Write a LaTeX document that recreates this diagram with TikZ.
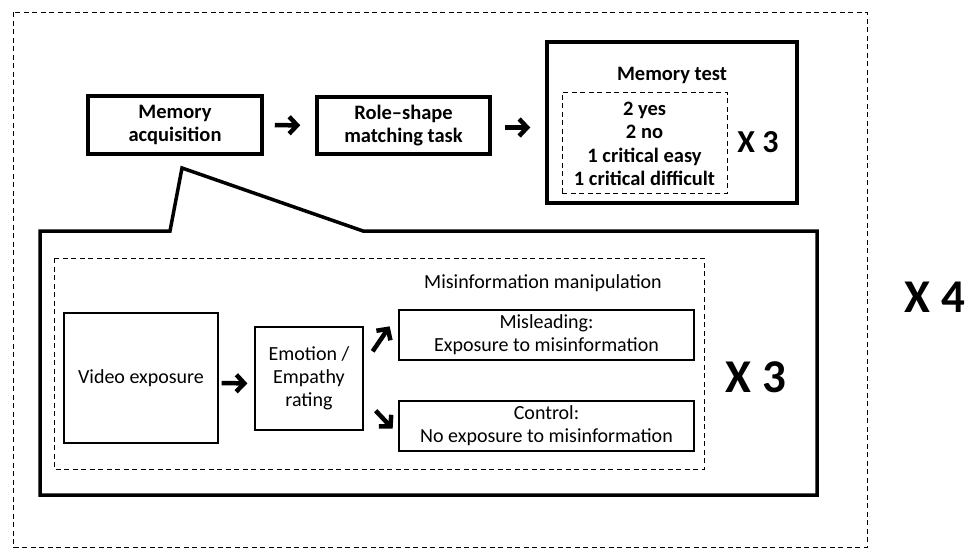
\documentclass[tikz,border=0pt]{standalone}
\usepackage{fontspec}
\setmainfont{Carlito}
\usetikzlibrary{arrows.meta,calc}

\tikzset{
	boldbox/.style={draw, line width=3.5pt, align=center, font=\bfseries\fontsize{20.5}{23}\selectfont},
	thinbox/.style={draw, line width=1.3pt, align=center, font=\fontsize{20}{23}\selectfont},
	dashframe/.style={draw, dashed, line width=1pt, dash pattern=on 5pt off 3.5pt},
	arr/.style={line width=4.5pt, -{Straight Barb[length=8pt, width=17pt, line width=4.5pt]}},
	times/.style={font=\bfseries\fontsize{47}{50}\selectfont},
}

\begin{document}
\begin{tikzpicture}[x=1pt, y=-1pt]
	\useasboundingbox (0,0) rectangle (969,549);
	% outer loop
	\draw[dashframe] (13,12) rectangle (867,547);
	\node[times] (repfour) at (935,297) {X 4};

	% top row
	\node[boldbox, minimum width=174pt, minimum height=58pt] (acq) at (175,125) {Memory\\acquisition};
	\node[boldbox, minimum width=173pt, minimum height=57pt] (role) at (403.5,125.5) {Role–shape\\matching task};
	\node[boldbox, minimum width=250pt, minimum height=161pt] (test) at (672,122.5) {};
	\node[font=\bfseries\fontsize{20.5}{23}\selectfont] (testlabel) at (672,75) {Memory test};
	\node[dashframe, minimum width=165pt, minimum height=101pt] (trials) at (644.5,142.5) {};
	\node[align=center, font=\bfseries\fontsize{20.5}{23.5}\selectfont] (trialtext) at (644.5,144) {2 yes\\2 no\\1 critical easy\\1 critical difficult};
	\node[font=\bfseries\fontsize{32}{36}\selectfont] (reptest) at (758,142) {X 3};

	\draw[arr, shorten <=11pt, shorten >=15pt] (acq) -- (role);
	\draw[arr, shorten <=13pt, shorten >=15pt] ($(role.east)+(0,2)$) -- ($(role.east -| test.west)+(0,2)$);

	% callout
	\draw[line width=3.5pt, line join=miter] (40,231) -- (170,231) -- (182,168) -- (363,231) -- (817,231) -- (817,495) -- (40,495) -- cycle;
	\draw[dashframe] (54,258) rectangle (704,469);
	\node[times] (repacq) at (756,377) {X 3};

	\node[thinbox, minimum width=154pt, minimum height=130pt] (video) at (141,378) {Video exposure};
	\node[thinbox, minimum width=108pt, minimum height=103pt] (rating) at (309,378.5) {Emotion /\\Empathy\\rating};
	\node[font=\fontsize{20}{23}\selectfont] (manip) at (543,283) {Misinformation manipulation};
	\node[thinbox, minimum width=295pt, minimum height=50pt, inner sep=1pt] (mislead) at (546.5,335) {Misleading:\\Exposure to misinformation};
	\node[thinbox, minimum width=295pt, minimum height=50pt, inner sep=1pt] (control) at (546.5,426) {Control:\\No exposure to misinformation};

	\draw[arr, shorten <=3pt, shorten >=7pt] ($(video.east)+(0,5)$) -- ($(rating.west)+(0,5)$);
	\coordinate (upfrom) at ($(rating.north east)+(9,25)$);
	\coordinate (upto) at ($(rating.north east)+(26,0)$);
	\coordinate (downfrom) at ($(rating.south east)+(12,-20)$);
	\coordinate (downto) at ($(rating.south east)+(29,-2)$);
	\draw[arr] (upfrom) -- (upto);
	\draw[arr] (downfrom) -- (downto);
\end{tikzpicture}
\end{document}
